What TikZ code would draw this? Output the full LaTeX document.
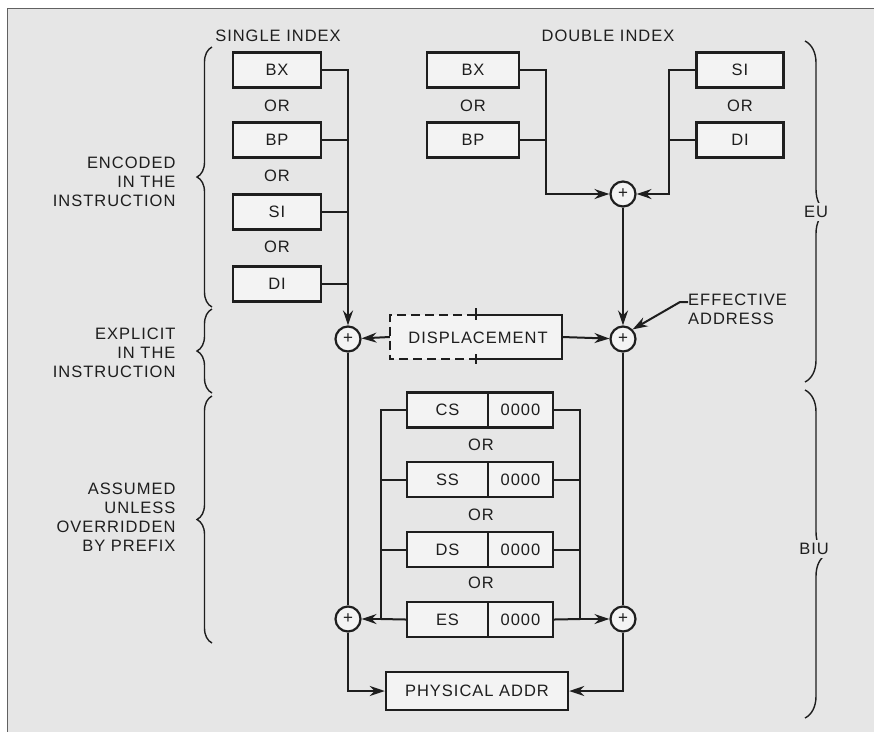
\documentclass[tikz,border=0pt]{standalone}
\usepackage{fontspec}
\setmainfont{Liberation Sans}[LetterSpace=6]
\usetikzlibrary{arrows.meta,decorations.pathreplacing}
\definecolor{PageGray}{HTML}{E6E6E6}
\definecolor{BoxWhite}{HTML}{F3F3F3}
\definecolor{InkBlack}{HTML}{1E1E1E}
\tikzset{
  every node/.style={font=\fontsize{16.5}{19}\selectfont,text=InkBlack},
  regbox/.style={draw=InkBlack,fill=BoxWhite,line width=2.4pt,minimum height=35pt,inner sep=0pt},
  adder/.style={circle,draw=InkBlack,fill=BoxWhite,line width=2.2pt,minimum size=25pt,inner sep=0pt,font=\fontsize{17}{17}\selectfont},
  wire/.style={draw=InkBlack,line width=2pt},
  arr/.style={wire,-{Stealth[length=15pt,width=10pt]}},
  curly/.style={draw=InkBlack,line width=1.4pt,decorate,decoration={brace,amplitude=#1}},
  lbl/.style={align=right,anchor=east}
}
\begin{document}
\begin{tikzpicture}[x=1pt,y=-1pt]
  \useasboundingbox (0,0) rectangle (874,732);
  \fill[white] (0,0) rectangle (874,732); \fill[PageGray] (7,8) rectangle (874,732);
  \draw[InkBlack!70,line width=1pt] (874,8) -- (7,8) -- (7,732);
  \node at (278,36) {SINGLE INDEX}; \node at (608,36) {DOUBLE INDEX};
  \node[regbox,minimum width=88pt] (sBX) at (277,70) {BX}; \node[regbox,minimum width=88pt] (sBP) at (277,140) {BP};
  \node[regbox,minimum width=88pt] (sSI) at (277,212) {SI}; \node[regbox,minimum width=88pt] (sDI) at (277,284) {DI};
  \node at (277,106) {OR}; \node at (277,176) {OR}; \node at (277,247) {OR};
  \node[regbox,minimum width=92pt] (dBX) at (473,70) {BX}; \node[regbox,minimum width=92pt] (dBP) at (473,140) {BP};
  \node at (473,106) {OR};
  \node[regbox,minimum width=87pt] (dSI) at (740,70) {SI}; \node[regbox,minimum width=87pt] (dDI) at (740,140) {DI};
  \node at (740,106) {OR};
  \node[adder] (addT) at (623,194) {+}; \node[adder] (addL) at (348,339) {+}; \node[adder] (addEA) at (623,339) {+};
  \node[adder] (addBL) at (348,619) {+}; \node[adder] (addBR) at (623,619) {+};
  \node[minimum width=172pt,minimum height=44pt,inner sep=0pt] (disp) at (476,337) {};
  \fill[BoxWhite] (disp.north west) rectangle (disp.south east);
  \node at (478,338) {DISPLACEMENT};
  \draw[wire,line width=2.4pt] (disp.north) -- (disp.north east) -- (disp.south east) -- (disp.south);
  \draw[wire,dash pattern=on 9pt off 5pt] (disp.north) -- (disp.north west) -- (disp.south west) -- (disp.south);
  \draw[wire] ([yshift=-5]disp.north) -- ([yshift=7]disp.north); \draw[wire] ([yshift=5]disp.south) -- ([yshift=-5]disp.south);
  \foreach \s/\y in {CS/410,SS/479.5,DS/549.5,ES/619.5}{
    \node[regbox,minimum width=81pt] (seg\s) at (447.5,\y) {\s};
    \node[regbox,minimum width=65pt] (off\s) at (520.5,\y) {0000};
  }
  \node at (481,445) {OR}; \node at (481,515) {OR}; \node at (481,583) {OR};
  \node[regbox,minimum width=182pt,minimum height=38pt] (phys) at (477,691) {PHYSICAL ADDR};
  \draw[arr] (sBX.east) -| (addL.north);
  \draw[wire] (sBP.east) -- (sBP.east -| addL); \draw[wire] (sSI.east) -- (sSI.east -| addL); \draw[wire] (sDI.east) -- (sDI.east -| addL);
  \coordinate (dbusL) at (546,194); \coordinate (dbusR) at (669,194);
  \draw[arr] (dBX.east) -| (dbusL) -- (addT.west); \draw[wire] (dBP.east) -- (dBP.east -| dbusL);
  \draw[arr] (dSI.west) -| (dbusR) -- (addT.east); \draw[wire] (dDI.west) -- (dDI.west -| dbusR);
  \draw[arr] (addT) -- (addEA);
  \draw[arr] (disp.west) -- (addL); \draw[arr] (disp.east) -- (addEA);
  \node[align=left,anchor=north west,inner sep=0pt] (ea) at (688,294) {EFFECTIVE\\ADDRESS};
  \draw[arr] ([yshift=-8]ea.north west) -- ++(-8,0) -- (addEA.north east);
  \coordinate (sbusL) at (381,619); \coordinate (sbusR) at (580,619);
  \draw[arr] (segCS.west) -| (sbusL) -- (addBL.east); \draw[wire] (segES.west) -- (sbusL);
  \draw[wire] (segSS.west) -- (segSS.west -| sbusL); \draw[wire] (segDS.west) -- (segDS.west -| sbusL);
  \draw[arr] (offCS.east) -| (sbusR) -- (addBR.west); \draw[wire] (offES.east) -- (sbusR);
  \draw[wire] (offSS.east) -- (offSS.east -| sbusR); \draw[wire] (offDS.east) -- (offDS.east -| sbusR);
  \draw[wire] (addL) -- (addBL); \draw[wire] (addEA) -- (addBR);
  \draw[arr] (addBL) |- (phys.west); \draw[arr] (addBR) |- (phys.east);
  \draw[curly=15pt] (212,307) -- (212,47); \draw[curly=15pt] (212,393) -- (212,309); \draw[curly=15pt] (212,643) -- (212,396);
  \node[lbl] at (179,182) {ENCODED\\IN THE\\INSTRUCTION};
  \node[lbl] at (179,353) {EXPLICIT\\IN THE\\INSTRUCTION};
  \node[lbl] at (179,517) {ASSUMED\\UNLESS\\OVERRIDDEN\\BY PREFIX};
  \draw[curly=22pt] (805,41) -- (805,382); \draw[curly=22pt] (805,390) -- (805,718);
  \node[fill=PageGray,inner sep=3pt] at (816,212) {EU}; \node[fill=PageGray,inner sep=3pt] at (814,549) {BIU};
\end{tikzpicture}
\end{document}
